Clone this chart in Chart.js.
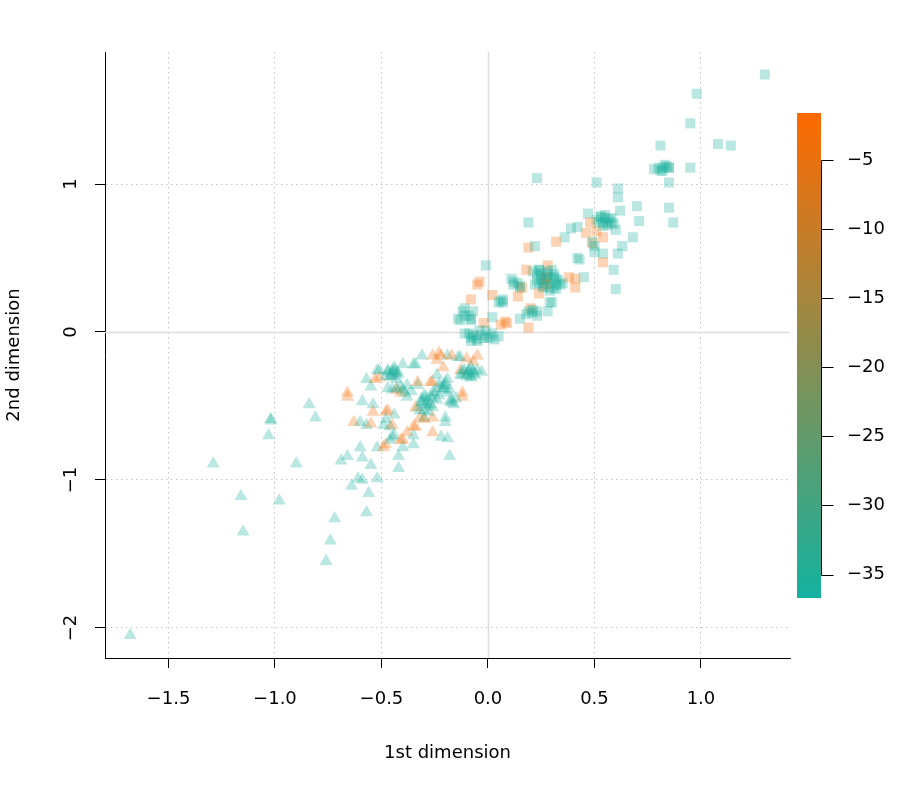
<!DOCTYPE html>
<html>
<head>
<meta charset="utf-8">
<script src="https://cdn.jsdelivr.net/npm/chart.js@4.4.0/dist/chart.umd.min.js"></script>
<style>
html, body { margin: 0; padding: 0; background: #fff; }
canvas { display: block; }
</style>
</head>
<body>
<canvas id="mds" width="922" height="791"></canvas>
<script>
// tick positions
const xTicks = [-1.5, -1.0, -0.5, 0.0, 0.5, 1.0];
const yTicks = [-2, -1, 0, 1];
const barTicks = [-5, -10, -15, -20, -25, -30, -35];

// upper group (squares)
const sqX = [1.30, 0.98, 0.95, 0.81, 1.08, 1.14, 0.78, 0.82, 0.84, 0.81, 0.85, 0.95, 0.85, 0.51, 0.61, 0.61, 0.70, 0.85, 0.62, 0.47,
  0.53, 0.55, 0.57, 0.54, 0.58, 0.51, 0.56, 0.71, 0.87, 0.60, 0.68, 0.23, 0.19, 0.42, 0.39, 0.48, 0.46, 0.51, 0.54, 0.36,
  0.32, 0.19, 0.22, 0.49, 0.49, 0.50, 0.63, 0.61, 0.50, 0.54, 0.42, 0.43, 0.54, 0.59, -0.01, 0.28, 0.45, 0.21, 0.24, 0.28,
  0.31, 0.23, 0.27, 0.30, 0.34, 0.26, 0.29, 0.22, 0.25, 0.32, 0.28, 0.26, 0.31, 0.27, 0.27, 0.38, 0.41, 0.41, 0.60, -0.04,
  -0.05, 0.11, 0.14, 0.15, 0.12, 0.16, 0.18, 0.02, 0.06, 0.07, -0.08, -0.11, -0.14, -0.11, -0.07, -0.08, 0.20, 0.21, 0.19, 0.23,
  0.30, 0.28, 0.02, -0.02, 0.06, 0.09, 0.19, 0.15, 0.14, 0.24, 0.29, -0.07, -0.02, -0.08, 0.01, -0.04, -0.05, 0.03, -0.11, 0.08,
  0.23, 0.25, 0.28, 0.31, 0.33, 0.24, 0.26, 0.29, 0.32, 0.35, 0.28, 0.25, 0.24, 0.30, 0.32,
  0.53, 0.55, 0.58, 0.52, 0.56, 0.59, 0.54, 0.80, 0.83, 0.85, 0.82,
  -0.09, -0.07, -0.03, 0.00, 0.02, -0.05, -0.01, -0.08, 0.05, -0.12, -0.09, -0.13, -0.08,
  0.12, 0.15, 0.07, 0.05, 0.21, 0.23, 0.18];
const sqY = [1.74, 1.61, 1.41, 1.26, 1.27, 1.26, 1.10, 1.11, 1.12, 1.09, 1.11, 1.11, 1.01, 1.01, 0.97, 0.91, 0.85, 0.84, 0.82, 0.80,
  0.78, 0.77, 0.76, 0.74, 0.74, 0.76, 0.72, 0.75, 0.74, 0.69, 0.64, 1.04, 0.74, 0.71, 0.70, 0.74, 0.67, 0.68, 0.64, 0.64,
  0.61, 0.57, 0.58, 0.60, 0.61, 0.58, 0.58, 0.53, 0.54, 0.53, 0.50, 0.49, 0.47, 0.42, 0.45, 0.45, 0.37, 0.41, 0.42, 0.41,
  0.39, 0.35, 0.35, 0.33, 0.32, 0.30, 0.28, 0.32, 0.38, 0.36, 0.37, 0.33, 0.30, 0.37, 0.32, 0.37, 0.36, 0.30, 0.29, 0.34,
  0.32, 0.36, 0.33, 0.30, 0.32, 0.30, 0.42, 0.25, 0.21, 0.20, 0.22, 0.16, 0.09, 0.11, 0.14, 0.08, 0.16, 0.13, 0.14, 0.14,
  0.20, 0.14, 0.10, 0.06, 0.05, 0.06, 0.03, 0.09, 0.24, 0.26, 0.20, -0.02, -0.04, -0.04, -0.03, 0.01, -0.05, -0.05, -0.01, 0.07,
  0.39, 0.40, 0.39, 0.37, 0.35, 0.33, 0.31, 0.30, 0.29, 0.33, 0.36, 0.36, 0.42, 0.42, 0.32,
  0.78, 0.79, 0.77, 0.74, 0.74, 0.73, 0.72, 1.11, 1.13, 1.11, 1.09,
  -0.01, -0.03, -0.02, -0.04, -0.01, -0.06, 0.01, -0.06, -0.03, 0.14, 0.11, 0.08, 0.09,
  0.34, 0.31, 0.22, 0.20, 0.15, 0.11, 0.12];
const sqV = [-36, -36, -36, -36, -36, -36, -36, -36, -35, -36, -36, -36, -36, -36, -36, -36, -36, -36, -36, -36,
  -36, -35, -36, -36, -36, -36, -35, -36, -36, -36, -36, -36, -36, -36, -36, -3, -3, -4, -3, -36,
  -3, -3, -36, -3, -36, -36, -36, -36, -36, -36, -36, -35, -3, -36, -36, -3, -36, -36, -36, -36,
  -36, -36, -36, -36, -36, -36, -36, -36, -36, -35, -36, -35, -36, -3, -4, -3, -3, -3, -36, -3,
  -3, -36, -36, -36, -36, -3, -3, -3, -36, -36, -3, -36, -36, -36, -36, -36, -3, -36, -36, -36,
  -36, -36, -36, -3, -3, -3, -3, -36, -3, -3, -36, -36, -36, -36, -36, -36, -36, -36, -36, -3,
  -36, -36, -36, -36, -36, -36, -36, -36, -36, -36, -36, -36, -36, -36, -36,
  -36, -36, -36, -36, -36, -36, -36, -36, -36, -36, -36,
  -36, -36, -36, -36, -36, -36, -36, -36, -36, -36, -36, -36, -36,
  -36, -36, -36, -36, -36, -36, -36];

// lower group (triangles)
const triX = [-1.68, -1.29, -1.16, -1.15, -1.02, -1.02, -1.03, -0.98, -0.90, -0.84, -0.81, -0.76, -0.74, -0.72, -0.69, -0.66, -0.66, -0.66, -0.63, -0.61,
  -0.64, -0.60, -0.59, -0.59, -0.56, -0.57, -0.55, -0.52, -0.59, -0.54, -0.55, -0.57, -0.54, -0.57, -0.55, -0.52, -0.48, -0.49, -0.46, -0.48,
  -0.47, -0.44, -0.45, -0.42, -0.42, -0.40, -0.38, -0.40, -0.35, -0.35, -0.35, -0.26, -0.22, -0.19, -0.18, -0.20, -0.20, -0.26, -0.32, -0.30,
  -0.33, -0.29, -0.31, -0.27, -0.30, -0.26, -0.17, -0.12, -0.21, -0.19, -0.23, -0.26, -0.10, -0.07, -0.08, -0.12, -0.03, -0.05, -0.07, -0.14,
  -0.19, -0.22, -0.24, -0.21, -0.13, -0.31, -0.35, -0.40, -0.45, -0.47, -0.44, -0.46, -0.43, -0.51, -0.45, -0.47, -0.41, -0.38, -0.51, -0.53,
  -0.33, -0.27, -0.52, -0.60, -0.48, -0.45, -0.49, -0.46, -0.44, -0.41, -0.34, -0.30, -0.34, -0.43, -0.40, -0.38, -0.33, -0.34, -0.26, -0.23,
  -0.17, -0.13, -0.10, -0.24, -0.20, -0.19, -0.26, -0.17, -0.16, -0.12, -0.11, -0.08, -0.28, -0.31, -0.29, -0.45, -0.43, -0.09, -0.06, -0.21,
  -0.41, -0.36,
  -0.30, -0.27, -0.24, -0.29, -0.26, -0.31, -0.23, -0.28, -0.25, -0.32,
  -0.47, -0.44, -0.45, -0.42, -0.48, -0.43,
  -0.12, -0.09, -0.07, -0.10, -0.08, -0.05, -0.13,
  -0.23, -0.20, -0.21, -0.18, -0.43, -0.39, -0.18, -0.15];
const triY = [-2.05, -0.89, -1.11, -1.35, -0.59, -0.60, -0.70, -1.14, -0.89, -0.49, -0.58, -1.55, -1.41, -1.26, -0.87, -0.84, -0.41, -0.44, -0.61, -0.99,
  -1.04, -0.78, -0.85, -1.00, -1.09, -1.22, -0.90, -0.99, -0.47, -0.49, -0.37, -0.32, -0.54, -0.63, -0.62, -0.78, -0.76, -0.63, -0.64, -0.54,
  -0.53, -0.56, -0.71, -0.84, -0.92, -0.73, -0.68, -0.78, -0.76, -0.70, -0.64, -0.68, -0.71, -0.72, -0.84, -0.58, -0.61, -0.58, -0.58, -0.58,
  -0.51, -0.47, -0.45, -0.49, -0.53, -0.45, -0.48, -0.41, -0.36, -0.41, -0.38, -0.34, -0.28, -0.26, -0.30, -0.29, -0.27, -0.16, -0.20, -0.17,
  -0.16, -0.16, -0.19, -0.24, -0.26, -0.16, -0.22, -0.22, -0.28, -0.26, -0.24, -0.30, -0.29, -0.26, -0.39, -0.38, -0.41, -0.44, -0.31, -0.32,
  -0.36, -0.34, -0.26, -0.61, -0.59, -0.63, -0.78, -0.73, -0.70, -0.73, -0.64, -0.59, -0.51, -0.39, -0.39, -0.36, -0.34, -0.22, -0.16, -0.14,
  -0.16, -0.17, -0.18, -0.29, -0.34, -0.32, -0.41, -0.46, -0.49, -0.44, -0.26, -0.24, -0.50, -0.48, -0.44, -0.26, -0.27, -0.27, -0.29, -0.38,
  -0.37, -0.40,
  -0.43, -0.44, -0.46, -0.49, -0.51, -0.47, -0.43, -0.54, -0.41, -0.53,
  -0.27, -0.26, -0.30, -0.28, -0.30, -0.32,
  -0.26, -0.26, -0.28, -0.30, -0.31, -0.26, -0.29,
  -0.35, -0.36, -0.39, -0.39, -0.38, -0.41, -0.47, -0.45];
const triV = [-36, -36, -36, -36, -36, -36, -36, -36, -36, -36, -36, -36, -36, -36, -36, -36, -3, -3, -3, -36,
  -36, -36, -36, -36, -36, -36, -36, -36, -36, -36, -36, -36, -3, -36, -3, -36, -3, -36, -36, -3,
  -3, -36, -36, -36, -36, -3, -3, -36, -36, -36, -3, -3, -36, -36, -36, -36, -36, -3, -3, -36,
  -36, -36, -36, -36, -36, -36, -36, -3, -36, -36, -36, -3, -36, -36, -36, -36, -36, -3, -3, -36,
  -36, -3, -3, -3, -3, -36, -36, -36, -36, -36, -36, -36, -36, -36, -36, -36, -3, -36, -3, -3,
  -36, -3, -36, -36, -36, -3, -3, -36, -36, -3, -3, -3, -3, -3, -36, -36, -3, -36, -3, -3,
  -3, -36, -3, -36, -36, -36, -36, -36, -36, -3, -36, -36, -36, -36, -36, -36, -36, -36, -36, -36,
  -36, -36,
  -36, -36, -36, -36, -36, -36, -36, -36, -36, -36,
  -36, -36, -36, -36, -36, -36,
  -36, -36, -36, -36, -36, -36, -36,
  -36, -36, -36, -36, -36, -36, -36, -36];

// colour ramp of the colour bar
const vMin = -36.7, vMax = -1.6;
const lowCol = [20, 178, 160];
const highCol = [255, 106, 0];
function rampColor(v, a) {
  const t = Math.min(1, Math.max(0, (v - vMin) / (vMax - vMin)));
  const c = lowCol.map((l, i) => Math.round(l + (highCol[i] - l) * t));
  return 'rgba(' + c[0] + ',' + c[1] + ',' + c[2] + ',' + a + ')';
}

const minus = v => (v < 0 ? '\u2212' : '') + Math.abs(v);
const baseFont = { family: "'DejaVu Sans', sans-serif", size: 18 };

const zeroLines = {
  id: 'zeroLines',
  beforeDatasetsDraw(chart) {
    const { ctx, chartArea: a, scales: { x, y } } = chart;
    ctx.save();
    ctx.strokeStyle = '#dddddd';
    ctx.lineWidth = 1.5;
    const px = Math.round(x.getPixelForValue(0)) + 0.5;
    const py = Math.round(y.getPixelForValue(0)) + 0.5;
    ctx.beginPath();
    ctx.moveTo(px, a.top); ctx.lineTo(px, a.bottom);
    ctx.moveTo(a.left, py); ctx.lineTo(a.right, py);
    ctx.stroke();
    ctx.restore();
  }
};

const yLabels = {
  id: 'yLabels',
  afterDraw(chart) {
    const ctx = chart.ctx;
    const y = chart.scales.y;
    ctx.save();
    ctx.fillStyle = '#000';
    ctx.font = "18px 'DejaVu Sans'";
    ctx.textAlign = 'center';
    ctx.textBaseline = 'middle';
    yTicks.forEach(v => {
      ctx.save();
      ctx.translate(71, y.getPixelForValue(v));
      ctx.rotate(-Math.PI / 2);
      ctx.fillText(minus(v), 0, 0);
      ctx.restore();
    });
    ctx.restore();
  }
};

const colorBar = {
  id: 'colorBar',
  afterDraw(chart) {
    const ctx = chart.ctx;
    const left = 797, w = 24, top = 113, bottom = 598;
    const yOf = v => bottom - (v - vMin) / (vMax - vMin) * (bottom - top);
    ctx.save();
    const g = ctx.createLinearGradient(0, bottom, 0, top);
    g.addColorStop(0, rampColor(vMin, 1));
    g.addColorStop(1, rampColor(vMax, 1));
    ctx.fillStyle = g;
    ctx.fillRect(left, top, w, bottom - top);
    const ax = left + w + 0.5;
    ctx.strokeStyle = '#000';
    ctx.lineWidth = 1;
    ctx.beginPath();
    ctx.moveTo(ax, Math.round(yOf(barTicks[0])) + 0.5);
    ctx.lineTo(ax, Math.round(yOf(barTicks[barTicks.length - 1])) + 0.5);
    barTicks.forEach(v => {
      const ty = Math.round(yOf(v)) + 0.5;
      ctx.moveTo(ax, ty); ctx.lineTo(ax + 12, ty);
    });
    ctx.stroke();
    ctx.fillStyle = '#000';
    ctx.font = "18px 'DejaVu Sans'";
    ctx.textAlign = 'left';
    ctx.textBaseline = 'middle';
    barTicks.forEach(v => ctx.fillText(minus(v), left + w + 26, yOf(v)));
    ctx.restore();
  }
};

const gridColor = c => (c.tick && c.tick.value === 0) ? 'rgba(0,0,0,0)' : '#c4c4c4';

function axisOpts(extra) {
  return Object.assign({
    type: 'linear',
    border: { display: true, color: '#000', width: 1, dash: [1.5, 3.5] },
    grid: {
      color: gridColor,
      lineWidth: 1,
      drawTicks: true,
      tickLength: 10,
      tickColor: '#000',
      tickBorderDash: [],
      tickWidth: 1
    }
  }, extra);
}

new Chart(document.getElementById('mds'), {
  type: 'scatter',
  data: {
    datasets: [
      {
        label: 'lower',
        data: triX.map((x, i) => ({ x: x, y: triY[i] })),
        pointStyle: 'triangle',
        pointRadius: 7.5,
        borderWidth: 0,
        backgroundColor: c => rampColor(triV[c.dataIndex], 0.3)
      },
      {
        label: 'upper',
        data: sqX.map((x, i) => ({ x: x, y: sqY[i] })),
        pointStyle: 'rect',
        pointRadius: 7.1,
        borderWidth: 0,
        backgroundColor: c => rampColor(sqV[c.dataIndex], 0.3)
      }
    ]
  },
  options: {
    responsive: false,
    animation: false,
    events: [],
    layout: { padding: { top: 52, right: 132, left: 0, bottom: 0 } },
    plugins: { legend: { display: false }, tooltip: { enabled: false } },
    scales: {
      x: axisOpts({
        min: -1.798,
        max: 1.418,
        afterBuildTicks: s => { s.ticks = xTicks.map(v => ({ value: v })); },
        afterFit: s => { s.height = 133; },
        ticks: {
          color: '#000',
          font: baseFont,
          padding: 21,
          maxRotation: 0,
          callback: v => (v < 0 ? '\u2212' : '') + Math.abs(v).toFixed(1)
        },
        title: {
          display: true,
          text: '1st dimension',
          color: '#000',
          font: baseFont,
          padding: { top: 0, bottom: 27 }
        }
      }),
      y: axisOpts({
        min: -2.203,
        max: 1.892,
        afterBuildTicks: s => { s.ticks = yTicks.map(v => ({ value: v })); },
        afterFit: s => { s.width = 105; },
        ticks: { display: false },
        title: {
          display: true,
          text: '2nd dimension',
          color: '#000',
          font: baseFont,
          padding: { top: 4, bottom: 0 }
        }
      })
    }
  },
  plugins: [zeroLines, yLabels, colorBar]
});
</script>
</body>
</html>
